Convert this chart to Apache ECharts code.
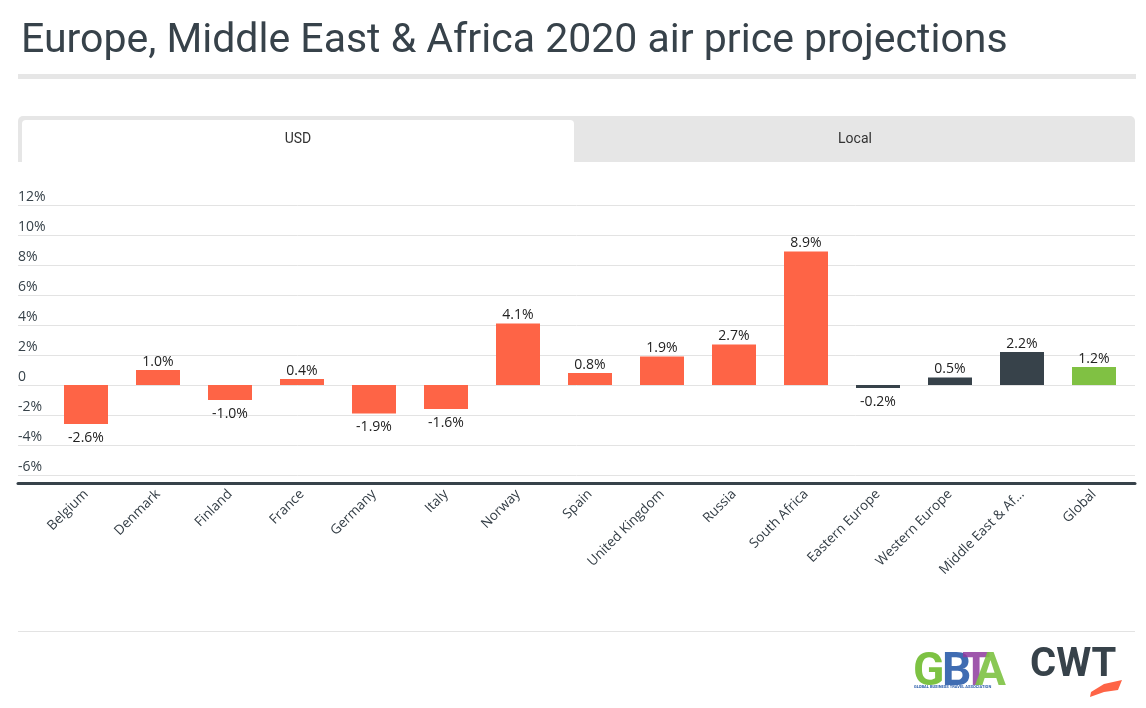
<!DOCTYPE html>
<html>
<head>
<meta charset="utf-8">
<script src="https://cdn.jsdelivr.net/npm/echarts@6/dist/echarts.min.js"></script>
<style>
html,body{margin:0;padding:0;background:#fff;}
#chart{width:1146px;height:708px;}
</style>
</head>
<body>
<div id="chart"></div>
<script>
const categories = ["Belgium","Denmark","Finland","France","Germany","Italy","Norway","Spain","United Kingdom","Russia","South Africa","Eastern Europe","Western Europe","Middle East & Africa","Global"];
const values = [-2.6, 1.0, -1.0, 0.4, -1.9, -1.6, 4.1, 0.8, 1.9, 2.7, 8.9, -0.2, 0.5, 2.2, 1.2];
const barGroups = ["country","country","country","country","country","country","country","country","country","country","country","region","region","region","global"];
const yTicks = [-6, -4, -2, 0, 2, 4, 6, 8, 10, 12];
const titleText = "Europe, Middle East & Africa 2020 air price projections";
const tabs = ["USD", "Local"];

const groupColors = { country: "#fe6446", region: "#37424a", global: "#80c143" };
const FONT = "Roboto, 'Open Sans', sans-serif";
const LFONT = "'Open Sans', Roboto, sans-serif";

const chart = echarts.init(document.getElementById('chart'));

const barData = values.map((v, i) => ({
  value: v,
  itemStyle: { color: groupColors[barGroups[i]] },
  label: { position: v < 0 ? 'bottom' : 'top', distance: v < 0 ? 7 : 1 }
}));

const option = {
  animation: false,
  backgroundColor: '#ffffff',
  title: {
    text: titleText,
    left: 16, top: 16,
    textStyle: { fontFamily: FONT, fontWeight: 'normal', fontSize: 41, color: '#37424a' }
  },
  grid: [
    { left: 50, right: 16, top: 205, bottom: 233 },
    { left: 18, right: 11, top: 205, bottom: 233 }
  ],
  xAxis: [
    {
      type: 'category', gridIndex: 0, data: categories,
      position: 'bottom', offset: 8,
      axisLine: { show: false, onZero: false },
      axisTick: { show: false },
      axisLabel: {
        rotate: 45, interval: 0, margin: 9,
        fontFamily: LFONT, fontSize: 13.5, color: '#333d45',
        formatter: s => s.length > 16 ? s.slice(0, 16) + '...' : s
      }
    },
    {
      type: 'value', gridIndex: 1, min: 0, max: 1, position: 'bottom', offset: 8,
      axisLine: { show: true, onZero: false, lineStyle: { color: '#37424a', width: 3 } },
      axisTick: { show: false }, axisLabel: { show: false }, splitLine: { show: false }
    }
  ],
  yAxis: [
    {
      type: 'value', gridIndex: 0, min: -6, max: 12, interval: 2,
      axisLine: { show: false }, axisTick: { show: false },
      axisLabel: { show: false }, splitLine: { show: false }
    },
    {
      type: 'value', gridIndex: 1, min: -6, max: 12, interval: 2,
      axisLine: { show: false }, axisTick: { show: false },
      splitLine: { show: true, lineStyle: { color: '#e3e3e3', width: 1 } },
      axisLabel: {
        inside: true, margin: 0, verticalAlign: 'bottom', padding: [0, 0, 1, 0],
        fontFamily: LFONT, fontSize: 14, color: '#37424a',
        formatter: v => v === 0 ? '0' : v + '%'
      }
    }
  ],
  series: [
    {
      type: 'bar', xAxisIndex: 0, yAxisIndex: 0, data: barData, barWidth: 44,
      label: {
        show: true, fontFamily: LFONT, fontSize: 14, color: '#222222',
        formatter: p => p.value.toFixed(1) + '%'
      }
    },
    { type: 'scatter', xAxisIndex: 1, yAxisIndex: 1, data: [], silent: true }
  ],
  graphic: [
    { type: 'rect', shape: { x: 18, y: 74, width: 1118, height: 5 }, style: { fill: '#e6e6e6' } },
    { type: 'rect', shape: { x: 18, y: 116, width: 1117, height: 46, r: [5, 5, 0, 0] }, style: { fill: '#e6e6e6' } },
    { type: 'rect', shape: { x: 22, y: 120, width: 552, height: 42, r: [4, 4, 0, 0] }, style: { fill: '#ffffff' } },
    { type: 'text', x: 298, y: 139, style: { text: tabs[0], font: '14px ' + FONT, fill: '#333333', align: 'center', verticalAlign: 'middle' } },
    { type: 'text', x: 855, y: 139, style: { text: tabs[1], font: '14px ' + FONT, fill: '#333333', align: 'center', verticalAlign: 'middle' } },
    { type: 'rect', shape: { x: 18, y: 631, width: 1117, height: 1 }, style: { fill: '#e3e3e3' } },
    // GBTA logo (approximation)
    { type: 'text', x: 913, y: 650, style: { text: 'G', font: 'bold 46px ' + FONT, fill: '#7dc243' } },
    { type: 'text', x: 942, y: 650, style: { text: 'B', font: 'bold 46px ' + FONT, fill: 'rgba(42,92,170,0.9)' } },
    { type: 'text', x: 962, y: 650, style: { text: 'T', font: 'bold 46px ' + FONT, fill: 'rgba(142,58,158,0.85)' } },
    { type: 'text', x: 975, y: 650, style: { text: 'A', font: 'bold 46px ' + FONT, fill: 'rgba(125,194,67,0.9)' } },
    { type: 'text', x: 914, y: 685, style: { text: 'GLOBAL BUSINESS TRAVEL ASSOCIATION', font: 'bold 4px ' + FONT, fill: '#2a5caa' } },
    // CWT logo (approximation)
    { type: 'text', x: 1030, y: 646, style: { text: 'CWT', font: 'bold 40px ' + FONT, fill: '#37424a' } },
    { type: 'polygon', shape: { points: [[1091, 692], [1104, 684], [1122, 680], [1118, 690], [1104, 692], [1090, 697]] }, style: { fill: '#fe6446' } }
  ]
};
chart.setOption(option);
</script>
</body>
</html>
